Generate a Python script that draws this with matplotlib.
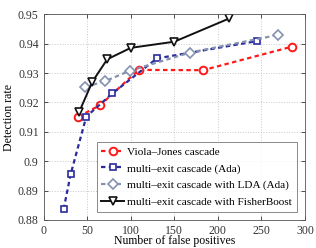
import numpy as np
import matplotlib
matplotlib.use("Agg")
import matplotlib.pyplot as plt

plt.rcParams['font.family'] = ['Liberation Serif', 'DejaVu Serif']
plt.rcParams['mathtext.fontset'] = 'stix'

# Datos
vj_x = [40, 65, 109, 183, 285]
vj_y = [0.9152, 0.9191, 0.9311, 0.9310, 0.9390]

ada_x = [23, 31, 49, 79, 130, 245]
ada_y = [0.8837, 0.8955, 0.9152, 0.9231, 0.9350, 0.9409]

lda_x = [48, 70, 99, 168, 269]
lda_y = [0.9253, 0.9272, 0.9308, 0.9370, 0.9430]

fb_x = [41, 56, 73, 100, 150, 213]
fb_y = [0.9169, 0.9271, 0.9347, 0.9386, 0.9407, 0.9486]

labels = ["Viola\u2013Jones cascade",
          "multi\u2013exit cascade (Ada)",
          "multi\u2013exit cascade with LDA (Ada)",
          "multi\u2013exit cascade with FisherBoost"]

fig = plt.figure(figsize=(3.16, 2.48), dpi=100)
ax = fig.add_axes([0.138, 0.113, 0.827, 0.829])

ax.plot(vj_x, vj_y, ls=(0, (2, 1.5)), color='#ff1a1a', lw=1.6, marker='o',
        ms=5.5, mfc='white', mec='#ff1a1a', mew=1.4, label=labels[0])
ax.plot(ada_x, ada_y, ls=(0, (2, 1.5)), color='#2b2b9e', lw=1.6, marker='s',
        ms=5, mfc='white', mec='#2b2b9e', mew=1.2, label=labels[1])
ax.plot(lda_x, lda_y, ls=(0, (2, 1.5)), color='#8592b0', lw=1.6, marker='D',
        ms=5, mfc='white', mec='#8592b0', mew=1.2, label=labels[2])
ax.plot(fb_x, fb_y, ls='-', color='#111111', lw=1.4, marker='v',
        ms=6, mfc='white', mec='#111111', mew=1.2, label=labels[3])

ax.set_xlim(0, 300)
ax.set_ylim(0.88, 0.95)
ax.set_xticks([0, 50, 100, 150, 200, 250, 300])
ax.set_yticks([0.88, 0.89, 0.9, 0.91, 0.92, 0.93, 0.94, 0.95])
ax.set_yticklabels(["0.88", "0.89", "0.9", "0.91", "0.92", "0.93", "0.94", "0.95"])
ax.tick_params(direction='in', labelsize=8.5, length=3, width=0.6,
               top=True, right=True, colors='#333333')
ax.grid(True, ls=':', color='#c8c8c8', lw=0.7)
for s in ax.spines.values():
    s.set_linewidth(0.6)
    s.set_color('#555555')

ax.set_xlabel("Number of false positives", fontsize=8.5, labelpad=-1)
ax.set_ylabel("Detection rate", fontsize=8.5, labelpad=2)

leg = ax.legend(loc='lower right', fontsize=8.1, frameon=True, fancybox=False,
                edgecolor='#555555', handlelength=2.0, handletextpad=0.3,
                borderpad=0.4, labelspacing=0.6, borderaxespad=0.75)
leg.get_frame().set_linewidth(0.6)

fig.savefig("out.png", dpi=100)
